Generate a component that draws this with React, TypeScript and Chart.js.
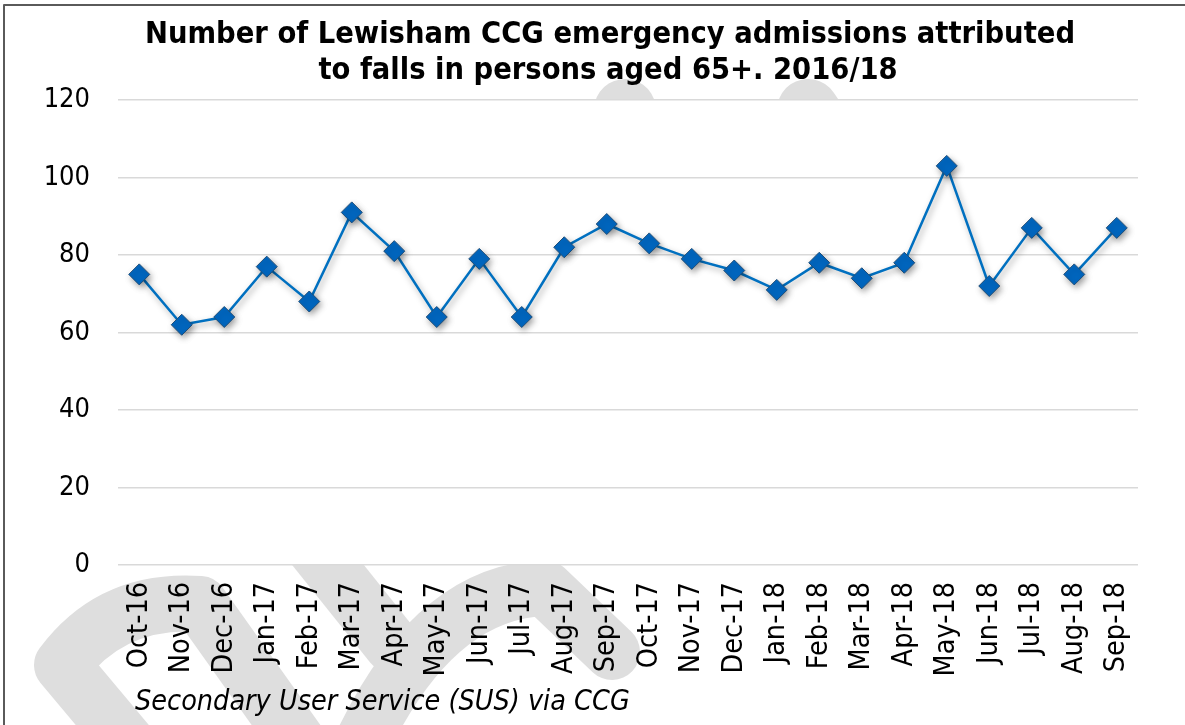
import React, { useEffect, useRef } from "react";
import { Chart, registerables } from "chart.js";

Chart.register(...registerables);

const TITLE_LINES = [
  "Number of Lewisham CCG emergency admissions attributed",
  "to falls in persons aged 65+. 2016/18",
];
const FOOTER = "Secondary User Service (SUS) via CCG";

const MONTHS = [
  "Oct-16", "Nov-16", "Dec-16", "Jan-17", "Feb-17", "Mar-17", "Apr-17", "May-17",
  "Jun-17", "Jul-17", "Aug-17", "Sep-17", "Oct-17", "Nov-17", "Dec-17", "Jan-18",
  "Feb-18", "Mar-18", "Apr-18", "May-18", "Jun-18", "Jul-18", "Aug-18", "Sep-18",
];
const ADMISSIONS = [
  75, 62, 64, 77, 68, 91, 81, 64, 79, 64, 82, 88,
  83, 79, 76, 71, 78, 74, 78, 103, 72, 87, 75, 87,
];
const Y_MIN = 0;
const Y_MAX = 120;
const Y_STEP = 20;

const FONT = '"DejaVu Sans Condensed", "DejaVu Sans", sans-serif';

const backgroundPlugin = {
  id: "bgWatermark",
  beforeDraw(chart: any) {
    const { ctx, chartArea, width, height } = chart;
    ctx.save();
    ctx.fillStyle = "#ffffff";
    ctx.fillRect(0, 0, width, height);
    // decorative watermark bands
    ctx.strokeStyle = "#dedede";
    ctx.lineCap = "round";
    ctx.lineJoin = "round";
    ctx.lineWidth = 56;
    ctx.beginPath();
    ctx.moveTo(150, 770);
    ctx.lineTo(62, 665);
    ctx.quadraticCurveTo(112, 598, 200, 604);
    ctx.lineTo(318, 770);
    ctx.stroke();
    ctx.beginPath();
    ctx.moveTo(308, 540);
    ctx.lineTo(392, 645);
    ctx.stroke();
    ctx.beginPath();
    ctx.moveTo(350, 770);
    ctx.quadraticCurveTo(425, 592, 545, 588);
    ctx.lineTo(612, 652);
    ctx.stroke();
    ctx.lineWidth = 62;
    ctx.beginPath();
    ctx.moveTo(625, 110);
    ctx.lineTo(580, 300);
    ctx.stroke();
    ctx.beginPath();
    ctx.moveTo(808, 110);
    ctx.lineTo(910, 260);
    ctx.stroke();
    // plot area
    ctx.fillStyle = "#ffffff";
    ctx.fillRect(chartArea.left, chartArea.top, chartArea.right - chartArea.left, chartArea.bottom - chartArea.top);
    // frame
    ctx.strokeStyle = "#5a5a5a";
    ctx.lineWidth = 2;
    ctx.lineCap = "butt";
    ctx.beginPath();
    ctx.moveTo(4, height);
    ctx.lineTo(4, 5);
    ctx.lineTo(width, 5);
    ctx.stroke();
    ctx.restore();
  },
  afterDraw(chart: any) {
    const { ctx } = chart;
    ctx.save();
    ctx.fillStyle = "#000000";
    ctx.textAlign = "center";
    ctx.textBaseline = "alphabetic";
    ctx.font = `bold 30.5px ${FONT}`;
    ctx.fillText(TITLE_LINES[0], 610, 43);
    ctx.fillText(TITLE_LINES[1], 608, 79);
    ctx.textAlign = "left";
    ctx.font = `italic 28.5px ${FONT}`;
    ctx.fillText(FOOTER, 135, 710);
    ctx.restore();
  },
};

const shadowPlugin = {
  id: "seriesShadow",
  beforeDatasetsDraw(chart: any) {
    const ctx = chart.ctx;
    ctx.save();
    ctx.shadowColor = "rgba(0,0,0,0.35)";
    ctx.shadowBlur = 6;
    ctx.shadowOffsetX = 2;
    ctx.shadowOffsetY = 3;
  },
  afterDatasetsDraw(chart: any) {
    chart.ctx.restore();
  },
};

export default function App() {
  const ref = useRef<HTMLCanvasElement | null>(null);

  useEffect(() => {
    document.body.style.margin = "0";
    if (!ref.current) return;
    const chart = new Chart(ref.current, {
      type: "line",
      data: {
        labels: MONTHS,
        datasets: [
          {
            label: "Emergency admissions (falls, 65+)",
            data: ADMISSIONS,
            borderColor: "#0070C0",
            borderWidth: 2.5,
            tension: 0,
            pointStyle: "rectRot",
            pointRadius: 10.5,
            pointHoverRadius: 10.5,
            pointBackgroundColor: "#0066BF",
            pointBorderColor: "#1F4E79",
            pointBorderWidth: 1,
          },
        ],
      },
      options: {
        responsive: false,
        animation: false,
        layout: { padding: { top: 100, right: 47, left: 0, bottom: 0 } },
        plugins: {
          legend: { display: false },
          title: { display: false },
          tooltip: { enabled: false },
        },
        scales: {
          x: {
            offset: true,
            grid: { display: false, drawTicks: false },
            border: { display: false },
            ticks: {
              minRotation: 90,
              maxRotation: 90,
              autoSkip: false,
              padding: 17,
              color: "#000000",
              font: { family: FONT, size: 28.5 },
            },
            afterFit(scale: any) {
              scale.height = 160;
            },
          },
          y: {
            min: Y_MIN,
            max: Y_MAX,
            grid: { color: "#d9d9d9", lineWidth: 1.5, drawTicks: false },
            border: { display: false },
            ticks: {
              stepSize: Y_STEP,
              padding: 28,
              color: "#000000",
              font: { family: FONT, size: 27 },
            },
            afterFit(scale: any) {
              scale.width = 118;
            },
          },
        },
      },
      plugins: [backgroundPlugin, shadowPlugin],
    });
    return () => chart.destroy();
  }, []);

  return (
    <div style={{ width: 1185, height: 725 }}>
      <canvas ref={ref} width={1185} height={725} style={{ display: "block" }} />
    </div>
  );
}
